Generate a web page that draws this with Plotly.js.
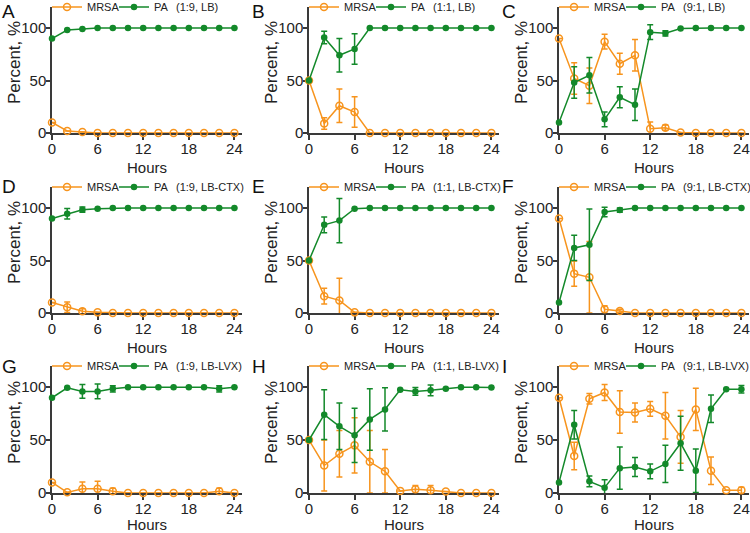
<html>
<head>
    <script src="https://cdn.plot.ly/plotly-3.0.1.min.js"></script>
    <style>
        body { margin: 0; padding: 0; background: white; }
        #chart { width: 750px; height: 533px; }
    </style>
</head>
<body>
    <div id="chart"></div>
    <script>
        // time points (hours)
        const hours = [0, 2, 4, 6, 8, 10, 12, 14, 16, 18, 20, 22, 24];

        // panel letters and condition labels (shown after the legend)
        const panelLetters = ['A', 'B', 'C', 'D', 'E', 'F', 'G', 'H', 'I'];
        const conditions = ['(1:9, LB)', '(1:1, LB)', '(9:1, LB)',
                            '(1:9, LB-CTX)', '(1:1, LB-CTX)', '(9:1, LB-CTX)',
                            '(1:9, LB-LVX)', '(1:1, LB-LVX)', '(9:1, LB-LVX)'];

        // A: 1:9 LB
        const mrsaA = [10, 2, 1, 0, 0, 0, 0, 0, 0, 0, 0, 0, 0];
        const mrsaErrA = [0, 0, 0, 0, 0, 0, 0, 0, 0, 0, 0, 0, 0];
        const paA = [90, 98, 99, 100, 100, 100, 100, 100, 100, 100, 100, 100, 100];
        const paErrA = [0, 0, 0, 0, 0, 0, 0, 0, 0, 0, 0, 0, 0];

        // B: 1:1 LB
        const mrsaB = [50, 9, 26, 20, 0, 0, 0, 0, 0, 0, 0, 0, 0];
        const mrsaErrB = [0, 5.5, 16, 14.5, 0, 0, 0, 0, 0, 0, 0, 0, 0];
        const paB = [50, 91, 74, 80, 100, 100, 100, 100, 100, 100, 100, 100, 100];
        const paErrB = [0, 6, 16, 14.5, 0, 0, 0, 0, 0, 0, 0, 0, 0];

        // C: 9:1 LB
        const mrsaC = [90, 52, 45, 87, 66, 74, 4, 5, 0.5, 0, 0, 0, 0];
        const mrsaErrC = [0, 15, 17, 7, 10, 15, 6.5, 2.5, 0, 0, 0, 0, 0];
        const paC = [10, 48, 55, 13, 34, 27, 96, 95, 99.5, 100, 100, 100, 100];
        const paErrC = [0, 15, 17, 7, 10, 15, 7, 2.5, 0, 0, 0, 0, 0];

        // D: 1:9 LB-CTX
        const mrsaD = [10, 5.5, 1.6, 0.6, 0, 0, 0, 0, 0, 0, 0, 0, 0];
        const mrsaErrD = [0, 5, 2.5, 0, 0, 0, 0, 0, 0, 0, 0, 0, 0];
        const paD = [90, 94.5, 98.4, 99.4, 100, 100, 100, 100, 100, 100, 100, 100, 100];
        const paErrD = [0, 5, 2.5, 0, 0, 0, 0, 0, 0, 0, 0, 0, 0];

        // E: 1:1 LB-CTX
        const mrsaE = [50, 16, 12, 0.6, 0, 0, 0, 0, 0, 0, 0, 0, 0];
        const mrsaErrE = [0, 7.5, 21, 0, 0, 0, 0, 0, 0, 0, 0, 0, 0];
        const paE = [50, 84, 88, 99.4, 100, 100, 100, 100, 100, 100, 100, 100, 100];
        const paErrE = [0, 7.5, 21, 0, 0, 0, 0, 0, 0, 0, 0, 0, 0];

        // F: 9:1 LB-CTX
        const mrsaF = [90, 37.5, 34, 3.5, 2, 0, 0, 0, 0, 0, 0, 0, 0];
        const mrsaErrF = [0, 12, 34, 3.5, 1.5, 0, 0, 0, 0, 0, 0, 0, 0];
        const paF = [10, 62, 65, 96.2, 98, 100, 100, 100, 100, 100, 100, 100, 100];
        const paErrF = [0, 12, 34, 4.5, 2, 0, 0, 0, 0, 0, 0, 0, 0];

        // G: 1:9 LB-LVX
        const mrsaG = [10, 0.6, 4, 4, 1.6, 0, 0, 0, 0, 0, 0, 1.6, 0];
        const mrsaErrG = [0, 0, 6.5, 7, 3, 0, 0, 0, 0, 0, 0, 3, 0];
        const paG = [90, 99.4, 96, 96, 98.4, 100, 100, 100, 100, 100, 100, 98.4, 100];
        const paErrG = [0, 0, 6.5, 7, 3, 0, 0, 0, 0, 0, 0, 3, 0];

        // H: 1:1 LB-LVX
        const mrsaH = [50, 26, 37, 45, 29.5, 20.5, 2, 3.5, 2.5, 1.5, 0, 0, 0];
        const mrsaErrH = [0, 24, 22, 26, 29.5, 20.5, 0, 3.7, 4.5, 0, 0, 0, 0];
        const paH = [50, 74, 63, 54.5, 69.5, 79, 97.5, 96, 97, 98.5, 100, 100, 99.7];
        const paErrH = [0, 23.5, 22, 25.6, 29, 20.5, 0, 3.7, 5, 0, 0, 0, 0];

        // I: 9:1 LB-LVX
        const mrsaI = [90, 35, 89, 95, 76.5, 76, 79.5, 73, 53, 79, 21, 2.5, 2.5];
        const mrsaErrI = [0, 13, 5, 7.5, 20, 9, 7, 22, 25, 20, 13, 0, 3];
        const paI = [10, 64.5, 11, 5, 23.5, 24.5, 20.5, 27.5, 47, 21, 79.5, 98, 98];
        const paErrI = [0, 13.5, 5, 7.5, 20, 9, 7, 17.5, 25.5, 20.5, 13, 0, 3.5];

        const mrsaSets = [mrsaA, mrsaB, mrsaC, mrsaD, mrsaE, mrsaF, mrsaG, mrsaH, mrsaI];
        const mrsaErrs = [mrsaErrA, mrsaErrB, mrsaErrC, mrsaErrD, mrsaErrE, mrsaErrF, mrsaErrG, mrsaErrH, mrsaErrI];
        const paSets = [paA, paB, paC, paD, paE, paF, paG, paH, paI];
        const paErrs = [paErrA, paErrB, paErrC, paErrD, paErrE, paErrF, paErrG, paErrH, paErrI];

        const ORANGE = '#F7941D';
        const GREEN = '#13892A';
        const AXIS = '#3a3a3a';
        const FONT = 'Liberation Sans, Arial, sans-serif';

        const W = 750, H = 533;
        // plot area in pixels: left edge of each column, top/bottom of each row
        const colLeft = [52, 309, 559];
        const colWidth = 190;
        const rowTop = [7, 187, 366];
        const rowBottom = [133, 313, 493];
        const letterX = [0, 250, 500];
        const letterY = [11, 186, 366];

        const data = [];
        const layout = {
            width: W,
            height: H,
            margin: {l: 0, r: 0, t: 0, b: 0, autoexpand: false},
            paper_bgcolor: 'white',
            plot_bgcolor: 'white',
            font: {family: FONT, color: '#222'},
            annotations: []
        };

        for (let i = 0; i < 9; i++) {
            const r = Math.floor(i / 3), c = i % 3;
            const n = i === 0 ? '' : String(i + 1);
            const lg = 'legend' + n;

            data.push({
                x: hours, y: mrsaSets[i],
                xaxis: 'x' + n, yaxis: 'y' + n,
                type: 'scatter', mode: 'lines+markers',
                name: 'MRSA', legend: lg, cliponaxis: false,
                line: {color: ORANGE, width: 1.5},
                marker: {symbol: 'circle-open', size: 7, color: ORANGE, line: {width: 1.5}},
                error_y: {type: 'data', array: mrsaErrs[i], visible: true, color: ORANGE, thickness: 1.5, width: 3}
            });
            data.push({
                x: hours, y: paSets[i],
                xaxis: 'x' + n, yaxis: 'y' + n,
                type: 'scatter', mode: 'lines+markers',
                name: 'PA', legend: lg, cliponaxis: false,
                line: {color: GREEN, width: 1.5},
                marker: {symbol: 'circle', size: 6.5, color: GREEN},
                error_y: {type: 'data', array: paErrs[i], visible: true, color: GREEN, thickness: 1.5, width: 3}
            });

            const x0 = colLeft[c] / W, x1 = (colLeft[c] + colWidth) / W;
            const y0 = 1 - rowBottom[r] / H, y1 = 1 - rowTop[r] / H;

            layout['xaxis' + n] = {
                domain: [x0, x1], anchor: 'y' + n,
                range: [0, 25], tickvals: [0, 6, 12, 18, 24],
                showgrid: false, zeroline: false,
                showline: true, linecolor: AXIS, linewidth: 2, layer: 'below traces',
                ticks: 'outside', ticklen: 5, tickwidth: 1.5, tickcolor: AXIS,
                ticklabelstandoff: -4, ticklabeloverflow: 'allow',
                tickfont: {size: 15, family: FONT, color: '#222'},
                title: {text: 'Hours', font: {size: 15, family: FONT, color: '#222'}, standoff: 6}
            };
            layout['yaxis' + n] = {
                domain: [y0, y1], anchor: 'x' + n,
                range: [0, 120], tickvals: [0, 50, 100],
                showgrid: false, zeroline: false,
                showline: true, linecolor: AXIS, linewidth: 1.5, layer: 'below traces',
                ticks: 'outside', ticklen: 4, tickwidth: 1.5, tickcolor: AXIS,
                ticklabelstandoff: -3,
                tickfont: {size: 15, family: FONT, color: '#222'}
            };
            layout[lg] = {
                orientation: 'h',
                x: (colLeft[c] - 5) / W, xanchor: 'left',
                y: 1 - rowTop[r] / H, yanchor: 'middle',
                bgcolor: 'rgba(0,0,0,0)',
                font: {size: 11, family: FONT, color: '#222'},
                itemwidth: 30, tracegroupgap: 0,
                entrywidth: 22, entrywidthmode: 'pixels'
            };
            // condition label that follows the legend entries
            layout.annotations.push({
                text: conditions[i], showarrow: false,
                xref: 'paper', yref: 'paper',
                x: (colLeft[c] + 122) / W, xanchor: 'left',
                y: 1 - rowTop[r] / H, yanchor: 'middle',
                font: {size: 11, family: FONT, color: '#222'}
            });
            // y-axis title, placed by hand so it sits close to the tick labels
            layout.annotations.push({
                text: 'Percent, %', showarrow: false, textangle: -90,
                xref: 'paper', yref: 'paper',
                x: (colLeft[c] - 38) / W, xanchor: 'center',
                y: 1 - (rowBottom[r] - 70) / H, yanchor: 'middle',
                font: {size: 17, family: FONT, color: '#222'}
            });
            layout.annotations.push({
                text: panelLetters[i], showarrow: false,
                xref: 'paper', yref: 'paper',
                x: letterX[c] / W, xanchor: 'left',
                y: 1 - letterY[r] / H, yanchor: 'middle',
                font: {size: 19, family: FONT, color: '#111'}
            });
        }

        Plotly.newPlot('chart', data, layout, {displayModeBar: false});
    </script>
</body>
</html>
